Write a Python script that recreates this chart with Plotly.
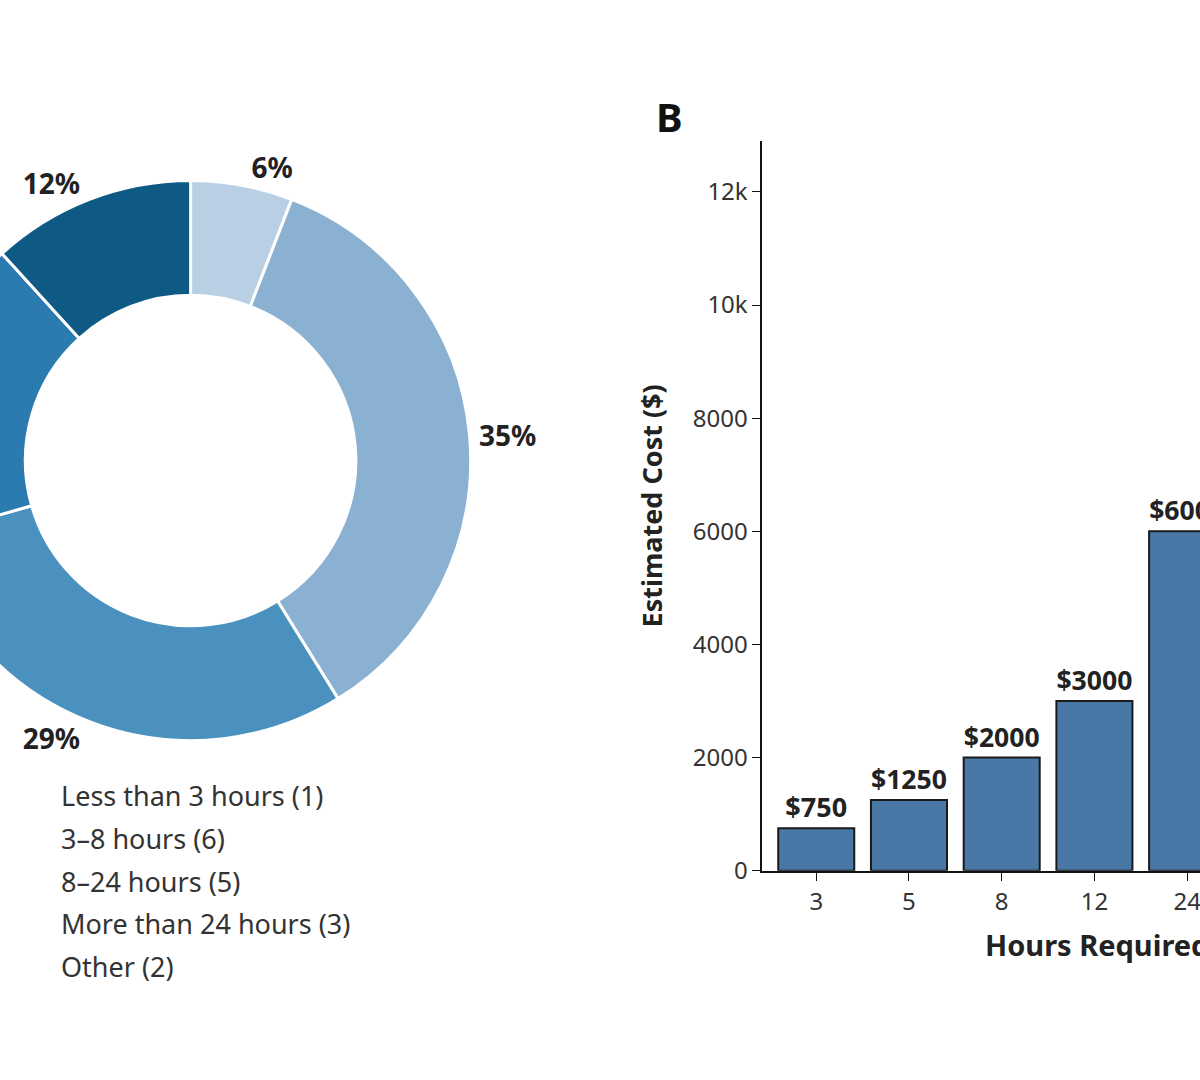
import plotly.graph_objects as go

labels = ["Less than 3 hours (1)", "3–8 hours (6)", "8–24 hours (5)", "More than 24 hours (3)", "Other (2)"]
counts = [1, 6, 5, 3, 2]
pie_colors = ["#b9cfe3", "#8ab0d2", "#4a91c0", "#2b7bb0", "#0f5a84"]

hours = ["3", "5", "8", "12", "24"]
costs = [750, 1250, 2000, 3000, 6000]

W, H, SHIFT = 1700, 1080, 150
FONT = "Noto Sans"

def fx(px):  # page x -> paper x
    return (px + SHIFT) / W

def fy(py):
    return 1 - py / H

fig = go.Figure()
cx, cy, r = 157, 467, 287
fig.add_trace(go.Pie(
    labels=labels, values=counts, sort=False, direction="clockwise", rotation=0,
    hole=0.59, marker=dict(colors=pie_colors, line=dict(color="white", width=3)),
    texttemplate="%{percent:.0%}", textposition="outside",
    textfont=dict(size=28, color="#222", family=FONT, weight="bold"),
    domain=dict(x=[fx(cx - r), fx(cx + r)], y=[fy(cy + r), fy(cy - r)]),
    showlegend=False,
))

fig.add_trace(go.Bar(
    x=hours, y=costs, marker=dict(color="#4a78a6", line=dict(color="#1a1a1a", width=2)),
    width=0.82, text=[f"${c}" for c in costs], textposition="outside",
    textfont=dict(size=27, color="#222", family=FONT, weight="bold"), cliponaxis=False,
    xaxis="x", yaxis="y", showlegend=False,
))

fig.update_layout(
    width=W, height=H, margin=dict(l=0, r=0, t=0, b=0),
    paper_bgcolor="white", plot_bgcolor="white", font=dict(family=FONT, color="#333"),
    xaxis=dict(domain=[fx(743), fx(1429)], range=[-0.58, 6.64], type="category",
               showline=True, linecolor="#111", linewidth=2, ticks="outside", ticklen=8,
               tickcolor="#111", tickfont=dict(size=24, color="#333"), showgrid=False,
               title=dict(text="Hours Required", font=dict(size=29, color="#222", weight="bold"), standoff=20),
               anchor="y"),
    yaxis=dict(domain=[fy(883), fy(143)], range=[0, 12900], showline=True, linecolor="#111",
               linewidth=2, ticks="outside", ticklen=8, tickcolor="#111",
               tickvals=[0, 2000, 4000, 6000, 8000, 10000, 12000],
               tickfont=dict(size=24, color="#333"), showgrid=False, zeroline=False,
               title=dict(text="Estimated Cost ($)", font=dict(size=27, color="#222", weight="bold"), standoff=22),
               anchor="x"),
)

fig.add_annotation(text="<b>B</b>", x=fx(648), y=fy(88), xref="paper", yref="paper",
                   showarrow=False, font=dict(size=40, color="#111"))

for i, lab in enumerate(labels):
    fig.add_annotation(text=lab, x=fx(22), y=fy(807 + 43.3 * i), xref="paper", yref="paper",
                       xanchor="left", yanchor="middle", showarrow=False,
                       font=dict(size=27, color="#333"))

fig.write_html("out.html", post_script=(
    "var d=document.getElementById('{plot_id}');d.style.marginLeft='-%dpx';"
    "document.body.style.margin='0';document.body.style.overflow='hidden';" % SHIFT))
